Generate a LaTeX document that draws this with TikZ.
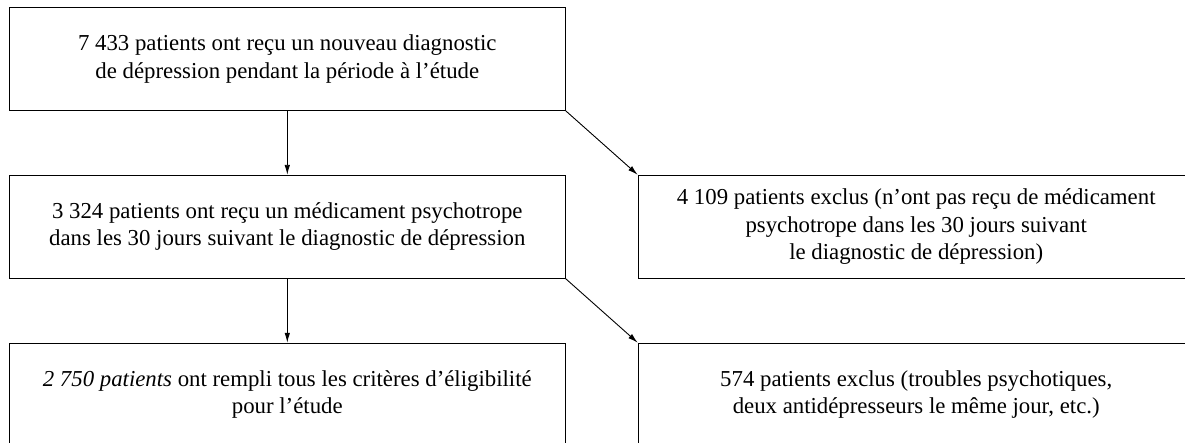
\documentclass[tikz,border=0pt]{standalone}
\usepackage{fontspec}
\setmainfont{Liberation Serif}
\usetikzlibrary{arrows.meta,positioning}

\begin{document}
\begin{tikzpicture}[x=1pt,y=1pt,
  box/.style={draw,line width=0.9pt,minimum width=556pt,minimum height=103pt,
    align=center,inner sep=0pt,font=\fontsize{22.8}{27.3}\selectfont},
  arr/.style={line width=0.9pt,-{Latex[length=10pt,width=5.5pt]}},
  node distance=64pt and 72pt]
\clip (0,0) rectangle (1185,-443);
\node[box] (start) at (287.3,-58.9)
  {7 433 patients ont reçu un nouveau diagnostic\\
   de dépression pendant la période à l’étude};
\node[box,below=of start] (treated)
  {3 324 patients ont reçu un médicament psychotrope\\
   dans les 30 jours suivant le diagnostic de dépression};
\node[box,right=of treated] (nodrug)
  {4 109 patients exclus (n’ont pas reçu de médicament\\
   psychotrope dans les 30 jours suivant\\
   le diagnostic de dépression)};
\node[box,below=of treated] (eligible)
  {\textit{2 750 patients} ont rempli tous les critères d’éligibilité\\
   pour l’étude};
\node[box,right=of eligible] (other)
  {574 patients exclus (troubles psychotiques,\\
   deux antidépresseurs le même jour, etc.)};
\draw[arr] (start) -- (treated);
\draw[arr] (start.south east) -- (nodrug.north west);
\draw[arr] (treated) -- (eligible);
\draw[arr] (treated.south east) -- (other.north west);
\end{tikzpicture}
\end{document}
